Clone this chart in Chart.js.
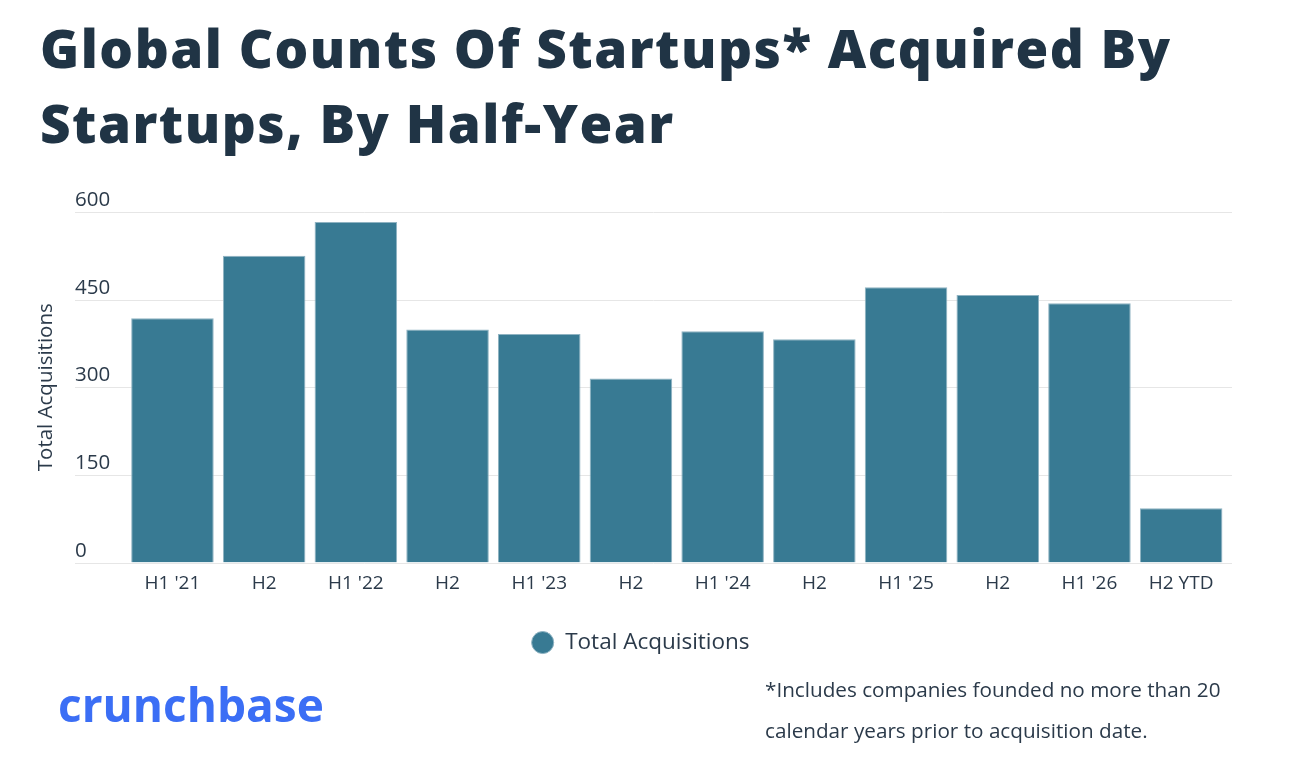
<!DOCTYPE html>
<html>
<head>
<meta charset="utf-8">
<script src="https://cdn.jsdelivr.net/npm/chart.js@4"></script>
<style>
  html, body { margin:0; padding:0; background:#fff; }
  #wrap { position:relative; width:1306px; height:758px; overflow:hidden; }
  #chart { position:absolute; left:0; top:0; }
  #title { position:absolute; left:40px; top:10px; font-family:"Open Sans", sans-serif; font-weight:800; font-size:53px; line-height:75px; color:#203445; white-space:nowrap; letter-spacing:1.5px; }
  #logo { position:absolute; left:58px; top:679px; font-family:"Open Sans", sans-serif; font-weight:700; font-size:46px; line-height:50px; color:#3b6ef5; }
  #note { position:absolute; left:765px; top:669px; font-family:"Open Sans", sans-serif; font-size:20.7px; line-height:41px; color:#2b3a4a; white-space:nowrap; }
</style>
</head>
<body>
<div id="wrap">
  <canvas id="chart" width="1306" height="758"></canvas>
  <div id="title">Global Counts Of Startups* Acquired By<br>Startups, By Half-Year</div>
  <div id="logo">crunchbase</div>
  <div id="note">*Includes companies founded no more than 20<br>calendar years prior to acquisition date.</div>
</div>
<script>
const categories = ["H1 '21", "H2", "H1 '22", "H2", "H1 '23", "H2", "H1 '24", "H2", "H1 '25", "H2", "H1 '26", "H2 YTD"];
const acquisitions = [418, 525, 583, 399, 391, 315, 396, 382, 471, 458, 444, 93];
const yTicks = [0, 150, 300, 450, 600];
const seriesName = "Total Acquisitions";

const textColor = '#2b3a4a';
const fontFamily = '"Open Sans", sans-serif';

const gridAndLabels = {
  id: 'gridAndLabels',
  beforeDatasetsDraw(chart) {
    const ctx = chart.ctx;
    const y = chart.scales.y;
    ctx.save();
    ctx.strokeStyle = '#e6e6e6';
    ctx.lineWidth = 1;
    ctx.font = '20.5px ' + fontFamily;
    ctx.fillStyle = textColor;
    ctx.textAlign = 'left';
    ctx.textBaseline = 'alphabetic';
    y.ticks.forEach(t => {
      const py = Math.round(y.getPixelForValue(t.value)) + 0.5;
      ctx.beginPath();
      ctx.moveTo(75, py);
      ctx.lineTo(1232, py);
      ctx.stroke();
      ctx.fillText(String(t.value), 75, py - 6.5);
    });
    ctx.restore();
  }
};

new Chart(document.getElementById('chart'), {
  type: 'bar',
  data: {
    labels: categories,
    datasets: [{
      label: seriesName,
      data: acquisitions,
      backgroundColor: '#387a93',
      borderColor: '#8fb3c2',
      borderWidth: 1,
      categoryPercentage: 1.0,
      barPercentage: 0.9
    }]
  },
  options: {
    responsive: false,
    animation: false,
    devicePixelRatio: 1,
    layout: { padding: { top: 212, right: 79, left: 54, bottom: 94.2 } },
    scales: {
      x: {
        grid: { display: false, drawTicks: false },
        border: { display: false },
        ticks: { color: textColor, font: { family: fontFamily, size: 19 }, padding: 10, maxRotation: 0, autoSkip: false },
        afterFit(s) { s.height = 58.8; }
      },
      y: {
        min: 0, max: 600,
        afterBuildTicks(s) { s.ticks = yTicks.map(v => ({ value: v })); },
        grid: { display: false, drawTicks: false },
        border: { display: false },
        ticks: { display: false },
        title: { display: true, text: seriesName, color: textColor, font: { family: fontFamily, size: 20.5 }, padding: { top: -19.8 } },
        afterFit(s) { s.width = 72.6; }
      }
    },
    plugins: {
      legend: {
        position: 'bottom',
        labels: {
          usePointStyle: true, pointStyle: 'circle',
          boxWidth: 23, boxHeight: 15.6,
          color: textColor, font: { family: fontFamily, size: 22.5 }, padding: 10
        }
      },
      tooltip: { enabled: false }
    }
  },
  plugins: [gridAndLabels]
});
</script>
</body>
</html>
